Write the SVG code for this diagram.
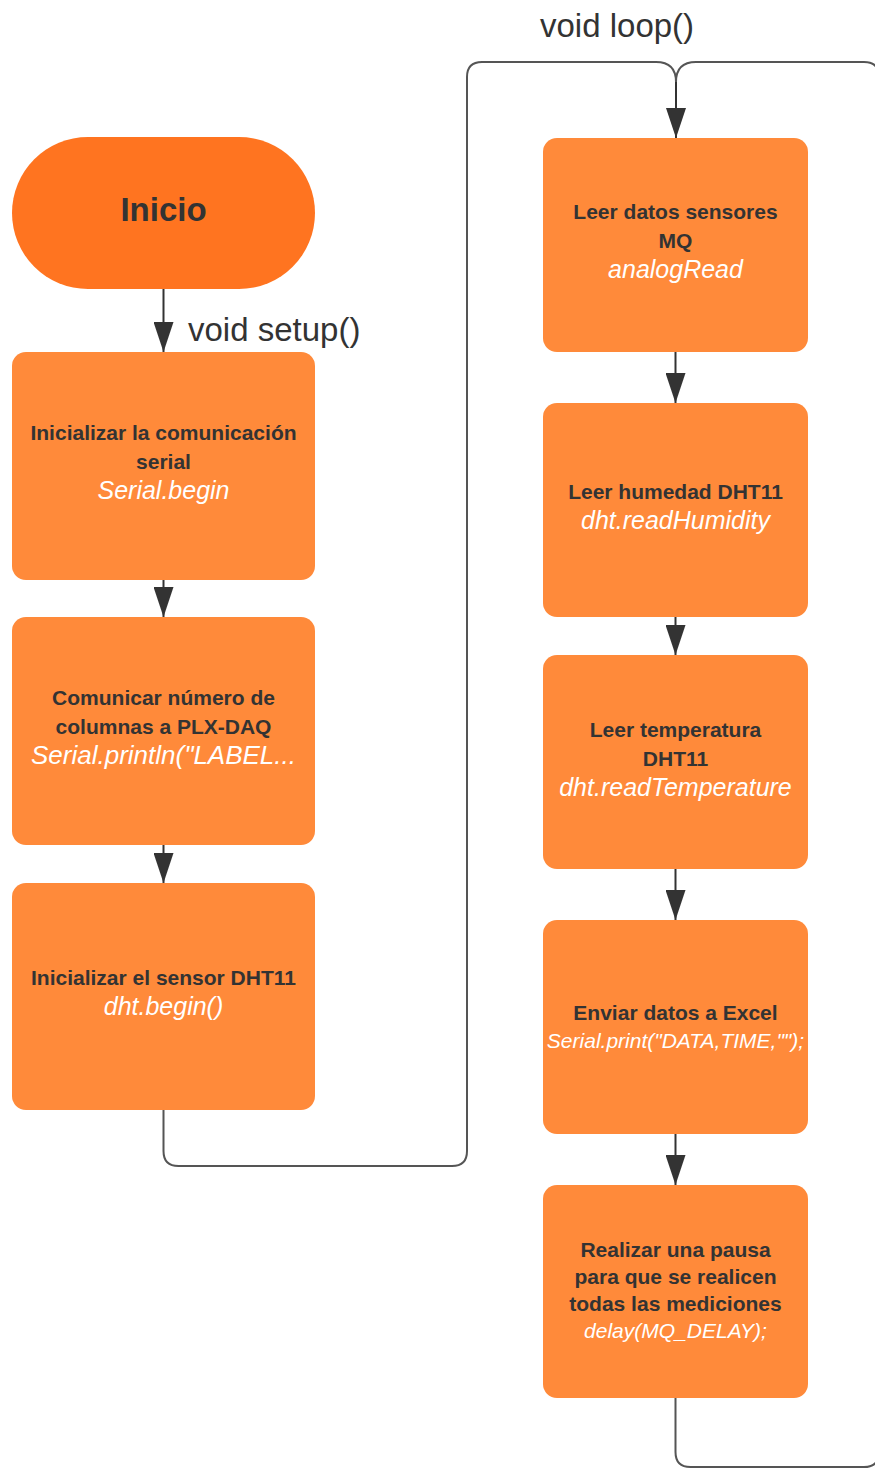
<svg xmlns="http://www.w3.org/2000/svg" width="875" height="1470" viewBox="0 0 875 1470">
<style>
.box{fill:#FF8A3A;}
.start{fill:#FF7420;}
.b{font-family:"Liberation Sans",Arial,sans-serif;font-weight:bold;font-size:21px;fill:#333333;text-anchor:middle;}
.i{font-family:"Liberation Sans",Arial,sans-serif;font-style:italic;font-size:25px;fill:#FFFFFF;text-anchor:middle;}
.is{font-size:21px;}
.lbl{font-family:"Liberation Sans",Arial,sans-serif;font-size:33px;fill:#333333;}
.c{fill:none;stroke:#333333;stroke-width:2;}
.loop{fill:none;stroke:#555555;stroke-width:2;}
</style>
<defs>
<marker id="arr" markerUnits="userSpaceOnUse" markerWidth="30" markerHeight="20" viewBox="0 0 30 20" refX="30" refY="10" orient="auto">
<path d="M0,0 L30,10 L0,20 z" fill="#333333"/>
</marker>
</defs>
<g id="connectors">
<path class="c" d="M163.5,289 L163.5,352" marker-end="url(#arr)"/>
<path class="c" d="M163.5,580 L163.5,617" marker-end="url(#arr)"/>
<path class="c" d="M163.5,845 L163.5,883" marker-end="url(#arr)"/>
<path class="loop" d="M163.5,1110 L163.5,1151 Q163.5,1166 178.5,1166 L452,1166 Q467,1166 467,1151 L467,77 Q467,62 482,62 L656,62 Q676,62 676,82"/>
<path class="loop" d="M675.5,1398 L675.5,1452 Q675.5,1467 690.5,1467 L864,1467 Q879,1467 879,1452 L879,77 Q879,62 864,62 L696,62 Q676,62 676,82"/>
<path class="c" d="M676,82 L676,138" marker-end="url(#arr)"/>
<path class="c" d="M675.5,352 L675.5,403" marker-end="url(#arr)"/>
<path class="c" d="M675.5,617 L675.5,655" marker-end="url(#arr)"/>
<path class="c" d="M675.5,869 L675.5,920" marker-end="url(#arr)"/>
<path class="c" d="M675.5,1134 L675.5,1185" marker-end="url(#arr)"/>
</g>
<text class="lbl" x="188" y="341">void setup()</text>
<text class="lbl" x="540" y="37">void loop()</text>
<g id="inicio">
<rect class="start" x="12" y="137" width="303" height="152" rx="76" ry="76"/>
<text class="b" x="163.5" y="221" style="font-size:33px">Inicio</text>
</g>
<g id="setup1">
<rect class="box" x="12" y="352" width="303" height="228" rx="14"/>
<text class="b" x="163.5" y="440">Inicializar la comunicación</text>
<text class="b" x="163.5" y="469">serial</text>
<text class="i" x="163.5" y="499">Serial.begin</text>
</g>
<g id="setup2">
<rect class="box" x="12" y="617" width="303" height="228" rx="14"/>
<text class="b" x="163.5" y="705">Comunicar número de</text>
<text class="b" x="163.5" y="734">columnas a PLX-DAQ</text>
<text class="i" x="163.5" y="764" style="font-size:26px">Serial.println("LABEL...</text>
</g>
<g id="setup3">
<rect class="box" x="12" y="883" width="303" height="227" rx="14"/>
<text class="b" x="163.5" y="985">Inicializar el sensor DHT11</text>
<text class="i" x="163.5" y="1015">dht.begin()</text>
</g>
<g id="loop1">
<rect class="box" x="543" y="138" width="265" height="214" rx="14"/>
<text class="b" x="675.5" y="219">Leer datos sensores</text>
<text class="b" x="675.5" y="248">MQ</text>
<text class="i" x="675.5" y="278">analogRead</text>
</g>
<g id="loop2">
<rect class="box" x="543" y="403" width="265" height="214" rx="14"/>
<text class="b" x="675.5" y="499">Leer humedad DHT11</text>
<text class="i" x="675.5" y="529">dht.readHumidity</text>
</g>
<g id="loop3">
<rect class="box" x="543" y="655" width="265" height="214" rx="14"/>
<text class="b" x="675.5" y="737">Leer temperatura</text>
<text class="b" x="675.5" y="766">DHT11</text>
<text class="i" x="675.5" y="796">dht.readTemperature</text>
</g>
<g id="loop4">
<rect class="box" x="543" y="920" width="265" height="214" rx="14"/>
<text class="b" x="675.5" y="1020">Enviar datos a Excel</text>
<text class="i is" x="675.5" y="1048">Serial.print("DATA,TIME,"");</text>
</g>
<g id="loop5">
<rect class="box" x="543" y="1185" width="265" height="213" rx="14"/>
<text class="b" x="675.5" y="1257">Realizar una pausa</text>
<text class="b" x="675.5" y="1284">para que se realicen</text>
<text class="b" x="675.5" y="1311">todas las mediciones</text>
<text class="i is" x="675.5" y="1338">delay(MQ_DELAY);</text>
</g>
</svg>
